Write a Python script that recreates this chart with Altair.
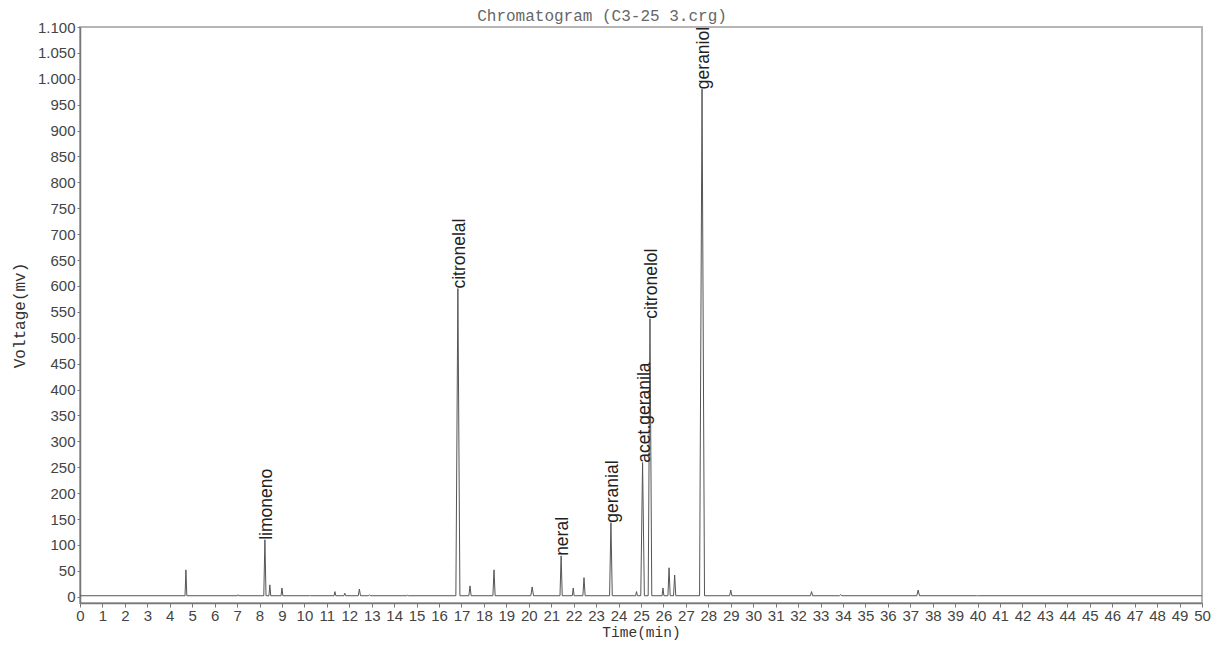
import altair as alt
import pandas as pd

# Peak list
peak_time = [4.72, 7.05, 8.24, 8.46, 9.0, 10.25, 11.36, 11.8, 12.45, 12.9, 14.6,
             16.84, 17.38, 18.45, 20.15, 21.44, 21.98, 22.46, 23.66, 24.8, 25.07,
             25.4, 25.98, 26.25, 26.5, 27.72, 29.0, 32.6, 33.9, 37.35, 40.0]
peak_height = [52, 4, 110, 23, 17, 3, 10, 7, 15, 4, 3,
               595, 21, 52, 19, 79, 17, 37, 143, 10, 259,
               537, 17, 56, 42, 980, 13, 10, 4, 13, 2]
peak_halfwidth = [0.04, 0.03, 0.05, 0.04, 0.04, 0.03, 0.04, 0.04, 0.05, 0.04, 0.03,
                  0.09, 0.05, 0.05, 0.06, 0.05, 0.04, 0.05, 0.06, 0.04, 0.08,
                  0.08, 0.04, 0.05, 0.05, 0.11, 0.05, 0.05, 0.05, 0.06, 0.05]
baseline_level = 2

label_text = ["limoneno", "citronelal", "neral", "geranial", "acet.geranila", "citronelol", "geraniol"]
label_time = [8.24, 16.84, 21.44, 23.66, 25.07, 25.4, 27.72]
label_height = [110, 595, 79, 143, 259, 537, 980]

y_ticks = list(range(0, 1101, 50))
x_ticks = list(range(0, 51, 1))

# Build the trace table from the peak list
rows = [(0.0, baseline_level)]
for t, h, w in zip(peak_time, peak_height, peak_halfwidth):
    rows += [(t - w, baseline_level), (t, h), (t + w, baseline_level)]
rows.append((50.0, baseline_level))
trace = pd.DataFrame(rows, columns=["time", "voltage"])
trace["order"] = range(len(trace))

labels = pd.DataFrame({"name": label_text, "time": label_time, "voltage": label_height})

x_scale = alt.Scale(domain=[0, 50], nice=False)
y_scale = alt.Scale(domain=[-12, 1100], nice=False)

x_axis = alt.Axis(values=x_ticks, title="Time(min)", labelOverlap=False, labelFlush=False,
                  labelFont="Liberation Sans", labelFontSize=15, labelColor="#444",
                  titleFont="Liberation Mono", titleFontSize=14.5, titleFontWeight="normal",
                  titleColor="#333", titlePadding=2, domainColor="#777", domainWidth=1.5,
                  tickColor="#777", tickSize=4, labelPadding=1, grid=False)
y_axis = alt.Axis(values=y_ticks, title="Voltage(mv)", labelOverlap=False, labelFlush=False,
                  labelExpr="replace(format(datum.value, ','), ',', '.')",
                  labelFont="Liberation Sans", labelFontSize=15, labelColor="#444",
                  titleFont="Liberation Mono", titleFontSize=16, titleFontWeight="normal",
                  titleColor="#333", titlePadding=10, domainColor="#777", domainWidth=1.5,
                  tickColor="#777", tickSize=3, labelPadding=2, grid=False)

line = alt.Chart(trace).mark_line(color="#555", strokeWidth=1).encode(
    x=alt.X("time:Q", scale=x_scale, axis=x_axis),
    y=alt.Y("voltage:Q", scale=y_scale, axis=y_axis),
    order="order:Q",
)

text = alt.Chart(labels).mark_text(angle=270, align="left", baseline="middle",
                                   font="Liberation Sans", fontSize=17.5, color="#222",
                                   dx=0, dy=2).encode(
    x=alt.X("time:Q", scale=x_scale, axis=x_axis),
    y=alt.Y("voltage:Q", scale=y_scale, axis=y_axis),
    text="name:N",
)

chart = alt.layer(line, text).properties(
    width=1122, height=576,
    title=alt.TitleParams("Chromatogram (C3-25 3.crg)", font="Liberation Mono", fontSize=16,
                          fontWeight="normal", color="#666", anchor="middle", frame="group",
                          dx=-39, offset=-4),
    autosize=alt.AutoSizeParams(type="none"),
    padding={"left": 72, "top": 19, "right": 14, "bottom": 37},
).configure_view(stroke="#b5b5b5", strokeWidth=2).configure_axis(
    labelOverlap=False, labelFlush=False
)

chart.save("out.html", embed_options={"renderer": "svg", "actions": False})
